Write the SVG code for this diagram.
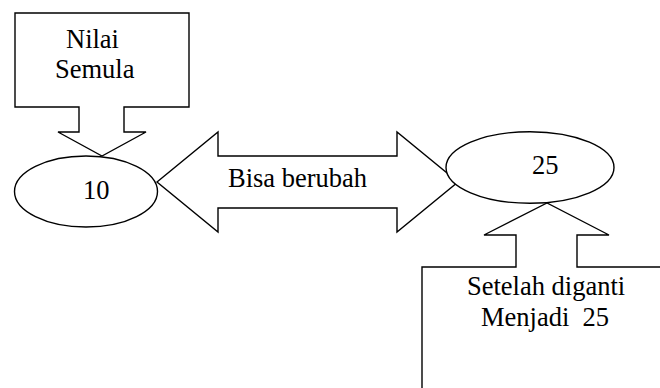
<svg xmlns="http://www.w3.org/2000/svg" width="660" height="388" viewBox="0 0 660 388">
  <style>
    .shape { fill: #ffffff; stroke: #000000; stroke-width: 1.4; stroke-linejoin: miter; }
    .label { font-family: "Liberation Serif", "Times New Roman", serif; font-size: 26.5px; fill: #000000; }
  </style>
  <rect x="0" y="0" width="660" height="388" fill="#ffffff"/>

  <!-- callout: box with a down arrow -->
  <g id="nilai-semula">
    <polygon class="shape" points="15,13 189,13 189,107 124,107 124,132 146,132 102,156 58,132 79,132 79,107 15,107"/>
    <text class="label" x="66" y="48">Nilai</text>
    <text class="label" x="55" y="78">Semula</text>
  </g>

  <!-- callout: box with an up arrow, running off the right and bottom edges -->
  <g id="setelah-diganti">
    <polygon class="shape" points="422,400 422,267 516,267 516,235 484,235 547,203 609,235 577,235 577,267 670,267 670,400"/>
    <text class="label" x="467" y="295">Setelah diganti</text>
    <text class="label" x="481" y="326" xml:space="preserve">Menjadi  25</text>
  </g>

  <!-- double-headed block arrow between the two values -->
  <g id="connectors">
    <polygon class="shape" points="157,182 218,132 218,156 397,156 397,132 458,182 397,232 397,208 218,208 218,232"/>
    <text class="label" x="228" y="187">Bisa berubah</text>
  </g>

  <g id="value-10">
    <ellipse class="shape" cx="86" cy="191.5" rx="71.5" ry="35.5"/>
    <text class="label" x="83" y="199">10</text>
  </g>

  <g id="value-25">
    <ellipse class="shape" cx="530" cy="167.5" rx="84" ry="35.8"/>
    <text class="label" x="532" y="174">25</text>
  </g>
</svg>
